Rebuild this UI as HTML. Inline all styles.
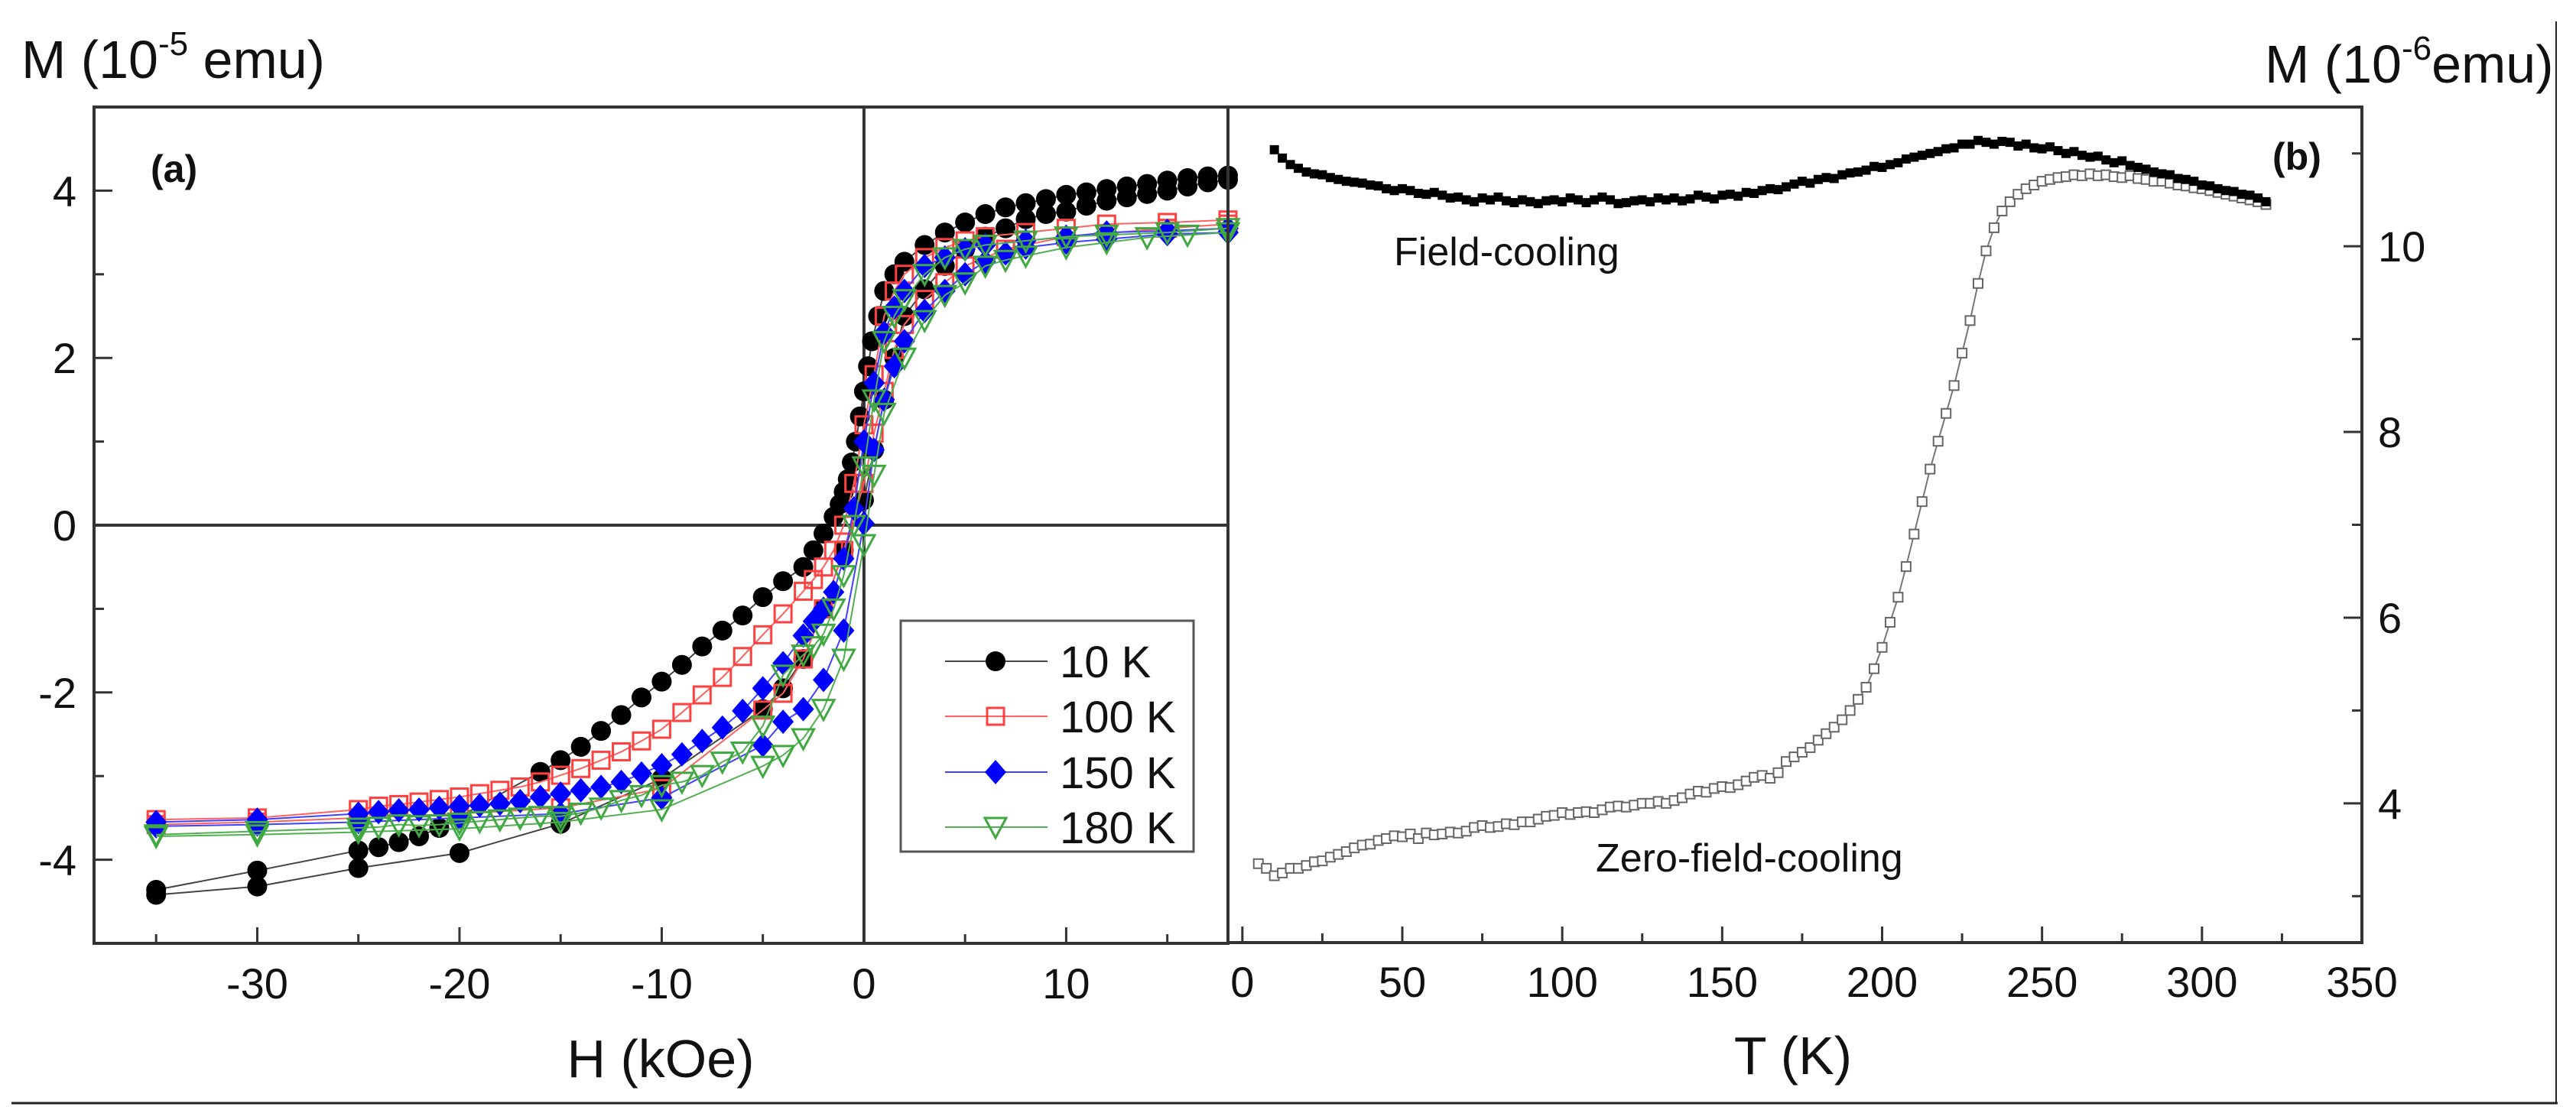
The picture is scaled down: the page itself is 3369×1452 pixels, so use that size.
<!DOCTYPE html>
<html><head><meta charset="utf-8"><style>
html,body{margin:0;padding:0;background:#fff;}
svg{display:block;}
text{font-family:"Liberation Sans",Arial,sans-serif;fill:#111;}
</style></head><body>
<svg id="chart" width="3369" height="1452" viewBox="0 0 3369 1452" xmlns="http://www.w3.org/2000/svg">
<rect x="0" y="0" width="3369" height="1452" fill="#fff"/>
<g id="panelA"></g>
<g id="panelB"></g>
<line x1="15" y1="1443" x2="3345" y2="1443" stroke="#222" stroke-width="3"/>
<line x1="3343" y1="28" x2="3343" y2="1443" stroke="#222" stroke-width="2"/>
</svg>
<script>
// ---------- Panel (a) data ----------
const seriesNames = ["10 K","100 K","150 K","180 K"];
const h10d = [18,17,16,15,14,13,12,11,10,9,8,7,6,5,4,3,2,1.5,1,0.7,0.4,0.2,0,-0.2,-0.4,-0.6,-0.8,-1,-1.2,-1.5,-2,-2.5,-3,-4,-5,-6,-7,-8,-9,-10,-11,-12,-13,-14,-15,-16,-21,-22,-23,-24,-25,-30,-35];
const m10d = [4.18,4.17,4.15,4.12,4.08,4.05,4.02,3.98,3.95,3.9,3.85,3.8,3.72,3.62,3.5,3.35,3.15,3.0,2.8,2.5,2.2,1.9,1.6,1.3,1.0,0.75,0.55,0.4,0.25,0.1,-0.1,-0.3,-0.5,-0.67,-0.86,-1.08,-1.26,-1.45,-1.67,-1.87,-2.06,-2.27,-2.46,-2.65,-2.81,-2.95,-3.62,-3.72,-3.79,-3.85,-3.89,-4.13,-4.36];
const h10a = [-35,-30,-25,-20,-15,-10,-5,-4,-3,-2,-1,0,0.5,1,1.5,2,3,4,5,6,7,8,9,10,11,12,13,14,15,16,17,18];
const m10a = [-4.42,-4.32,-4.1,-3.92,-3.57,-3.03,-2.2,-1.95,-1.6,-1.0,-0.3,0.3,0.9,1.5,2.0,2.5,2.82,3.1,3.3,3.45,3.55,3.66,3.72,3.75,3.82,3.88,3.92,3.96,4.0,4.05,4.1,4.13];
const hDesc = [18,15,12,10,8,6,5,4,3,2,1.5,1,0.5,0,-0.5,-1,-1.5,-2,-2.5,-3,-4,-5,-6,-7,-8,-9,-10,-11,-12,-13,-14,-15,-16,-17,-18,-19,-20,-21,-22,-23,-24,-25,-30,-35];
const m100d = [3.65,3.62,3.6,3.55,3.5,3.45,3.4,3.32,3.2,3.0,2.8,2.5,1.8,1.2,0.5,0.0,-0.3,-0.5,-0.65,-0.79,-1.06,-1.31,-1.57,-1.82,-2.03,-2.24,-2.44,-2.58,-2.71,-2.81,-2.91,-2.99,-3.07,-3.13,-3.17,-3.21,-3.25,-3.28,-3.31,-3.34,-3.36,-3.4,-3.5,-3.52];
const h100a = [-35,-30,-25,-20,-15,-10,-5,-4,-3,-2,-1,0,0.5,1,1.5,2,3,4,5,7,10,15,18];
const m100a = [-3.58,-3.55,-3.5,-3.45,-3.38,-3.15,-2.21,-2.01,-1.6,-1.0,-0.3,0.5,1.1,1.6,2.1,2.4,2.7,2.9,3.1,3.3,3.45,3.55,3.6];
const m150d = [3.55,3.52,3.5,3.45,3.4,3.35,3.3,3.2,3.1,2.8,2.6,2.3,1.7,1.0,0.2,-0.4,-0.8,-1.0,-1.15,-1.32,-1.65,-1.95,-2.22,-2.42,-2.58,-2.74,-2.87,-2.97,-3.07,-3.13,-3.17,-3.21,-3.25,-3.3,-3.33,-3.35,-3.36,-3.38,-3.4,-3.41,-3.43,-3.45,-3.52,-3.55];
const h150a = [-35,-30,-25,-20,-15,-10,-5,-4,-3,-2,-1,0,0.5,1,1.5,2,3,4,5,6,7,8,10,12,15,18];
const m150a = [-3.6,-3.58,-3.55,-3.5,-3.45,-3.26,-2.63,-2.35,-2.2,-1.85,-1.26,0.02,0.9,1.5,1.9,2.2,2.56,2.8,3.0,3.15,3.25,3.32,3.38,3.42,3.48,3.5];
const m180d = [3.55,3.5,3.47,3.45,3.4,3.35,3.3,3.2,3.0,2.7,2.5,2.2,1.5,0.7,0.0,-0.6,-1.0,-1.3,-1.45,-1.55,-1.79,-2.4,-2.71,-2.83,-2.99,-3.07,-3.11,-3.23,-3.29,-3.38,-3.44,-3.48,-3.48,-3.5,-3.52,-3.54,-3.56,-3.58,-3.59,-3.58,-3.61,-3.62,-3.66,-3.7];
const h180a = [-35,-30,-25,-20,-15,-10,-5,-4,-3,-2,-1,0,0.5,1,2,3,4,5,6,7,8,10,12,14,16,18];
const m180a = [-3.72,-3.7,-3.67,-3.63,-3.55,-3.4,-2.88,-2.75,-2.55,-2.2,-1.6,-0.23,0.6,1.34,2.0,2.45,2.75,2.9,3.1,3.17,3.22,3.32,3.38,3.44,3.47,3.5];
const aXTickLabels = ["-30","-20","-10","0","10"];
const aXTicks = [-30,-20,-10,0,10];
const aYTickLabels = ["-4","-2","0","2","4"];
const aYTicks = [-4,-2,0,2,4];

// ---------- Panel (b) data ----------
const fcT = [10,12.5,15,17.5,20,22.5,25,27.5,30,32.5,35,37.5,40,42.5,45,47.5,50,52.5,55,57.5,60,62.5,65,67.5,70,72.5,75,77.5,80,82.5,85,87.5,90,92.5,95,97.5,100,102.5,105,107.5,110,112.5,115,117.5,120,122.5,125,127.5,130,132.5,135,137.5,140,142.5,145,147.5,150,152.5,155,157.5,160,162.5,165,167.5,170,172.5,175,177.5,180,182.5,185,187.5,190,192.5,195,197.5,200,202.5,205,207.5,210,212.5,215,217.5,220,222.5,225,227.5,230,232.5,235,237.5,240,242.5,245,247.5,250,252.5,255,257.5,260,262.5,265,267.5,270,272.5,275,277.5,280,282.5,285,287.5,290,292.5,295,297.5,300,302.5,305,307.5,310,312.5,315,317.5,320];
const fcM = [11.04,10.95,10.88,10.84,10.8,10.78,10.77,10.74,10.72,10.7,10.69,10.68,10.66,10.65,10.62,10.6,10.62,10.6,10.57,10.56,10.58,10.55,10.52,10.53,10.5,10.48,10.52,10.5,10.53,10.49,10.47,10.5,10.48,10.46,10.49,10.5,10.48,10.52,10.5,10.47,10.5,10.53,10.5,10.46,10.47,10.49,10.5,10.48,10.52,10.5,10.52,10.49,10.51,10.55,10.53,10.51,10.55,10.56,10.54,10.58,10.57,10.6,10.62,10.61,10.64,10.67,10.7,10.68,10.72,10.74,10.73,10.77,10.79,10.8,10.82,10.86,10.85,10.88,10.9,10.94,10.96,10.98,11.0,11.02,11.05,11.06,11.1,11.1,11.14,11.12,11.1,11.13,11.12,11.08,11.1,11.06,11.05,11.07,11.03,11.0,11.02,10.98,10.96,10.97,10.93,10.9,10.92,10.87,10.85,10.83,10.8,10.78,10.77,10.73,10.72,10.7,10.66,10.65,10.62,10.6,10.59,10.56,10.55,10.52,10.48];
const zfcT = [5,7.5,10,12.5,15,17.5,20,22.5,25,27.5,30,32.5,35,37.5,40,42.5,45,47.5,50,52.5,55,57.5,60,62.5,65,67.5,70,72.5,75,77.5,80,82.5,85,87.5,90,92.5,95,97.5,100,102.5,105,107.5,110,112.5,115,117.5,120,122.5,125,127.5,130,132.5,135,137.5,140,142.5,145,147.5,150,152.5,155,157.5,160,162.5,165,167.5,170,172.5,175,177.5,180,182.5,185,187.5,190,192.5,195,197.5,200,202.5,205,207.5,210,212.5,215,217.5,220,222.5,225,227.5,230,232.5,235,237.5,240,242.5,245,247.5,250,252.5,255,257.5,260,262.5,265,267.5,270,272.5,275,277.5,280,282.5,285,287.5,290,292.5,295,297.5,300,302.5,305,307.5,310,312.5,315,317.5,320];
const zfcM = [3.35,3.3,3.22,3.25,3.3,3.3,3.33,3.37,3.38,3.42,3.45,3.48,3.52,3.55,3.56,3.6,3.62,3.65,3.64,3.67,3.62,3.68,3.66,3.67,3.69,3.68,3.7,3.74,3.76,3.74,3.75,3.78,3.77,3.8,3.8,3.83,3.86,3.87,3.9,3.88,3.9,3.91,3.9,3.93,3.96,3.97,3.96,3.98,4.0,4.0,4.02,4.0,4.03,4.06,4.1,4.13,4.12,4.16,4.18,4.17,4.2,4.24,4.28,4.3,4.27,4.33,4.45,4.5,4.55,4.6,4.68,4.75,4.82,4.9,5.0,5.12,5.25,5.45,5.68,5.95,6.22,6.55,6.9,7.25,7.6,7.9,8.2,8.5,8.85,9.2,9.6,9.95,10.2,10.38,10.48,10.56,10.62,10.66,10.7,10.72,10.74,10.75,10.77,10.76,10.78,10.76,10.77,10.75,10.74,10.76,10.73,10.72,10.7,10.7,10.68,10.66,10.65,10.63,10.62,10.6,10.58,10.56,10.54,10.52,10.5,10.48,10.45];
const bXTickLabels = ["0","50","100","150","200","250","300","350"];
const bXTicks = [0,50,100,150,200,250,300,350];
const bYTickLabels = ["4","6","8","10"];
const bYTicks = [4,6,8,10];

// ---------- Axis functions ----------
const A = {l:123, r:1606, t:140, b:1234, hMin:-38.07, hMax:18.0, mMin:-5, mMax:5};
function xa(h){ return A.l + (h - A.hMin) * (A.r - A.l) / (A.hMax - A.hMin); }
function ya(m){ return A.b - (m - A.mMin) * (A.b - A.t) / (A.mMax - A.mMin); }
const B = {l:1606, r:3089, t:140, b:1233, tMin:-4.5, tMax:350, mMin:2.5, mMax:11.5};
function xb(t){ return B.l + (t - B.tMin) * (B.r - B.l) / (B.tMax - B.tMin); }
function yb(m){ return B.b - (m - B.mMin) * (B.b - B.t) / (B.mMax - B.mMin); }

const NS = "http://www.w3.org/2000/svg";
function mk(tag, attrs, parent){
  const e = document.createElementNS(NS, tag);
  for (const k in attrs) e.setAttribute(k, attrs[k]);
  parent.appendChild(e);
  return e;
}
const gA = document.getElementById('panelA');
const gB = document.getElementById('panelB');

function marker(kind, x, y, parent, name){
  let e;
  if (kind === 'circle') {
    e = mk('circle', {cx:x, cy:y, r:13, fill:'#000'}, parent);
  } else if (kind === 'square') {
    e = mk('rect', {x:x-11, y:y-11, width:22, height:22, fill:'none', stroke:'#ff4040', 'stroke-width':3}, parent);
  } else if (kind === 'diamond') {
    e = mk('polygon', {points:(x)+','+(y-16)+' '+(x+14)+','+y+' '+x+','+(y+16)+' '+(x-14)+','+y, fill:'#0000ff'}, parent);
  } else {
    e = mk('polygon', {points:(x-14)+','+(y-12)+' '+(x+14)+','+(y-12)+' '+x+','+(y+14), fill:'none', stroke:'#40a840', 'stroke-width':3}, parent);
  }
  
  
  return e;
}

// ---------- Panel (a) ----------
(function(){
  const frame = mk('rect', {x:A.l, y:A.t, width:A.r-A.l, height:A.b-A.t, fill:'none', stroke:'#333', 'stroke-width':4}, gA);
  
  
  const zx = mk('line', {x1:xa(0), y1:A.t, x2:xa(0), y2:A.b, stroke:'#333', 'stroke-width':4}, gA);
  
  
  const zy = mk('line', {x1:A.l, y1:ya(0), x2:A.r, y2:ya(0), stroke:'#333', 'stroke-width':4}, gA);
  
  
  for (let h = -35; h <= 15; h += 5) {
    const major = (h % 10 === 0);
    const t = mk('line', {x1:xa(h), y1:A.b, x2:xa(h), y2:A.b-(major?21:12), stroke:'#333', 'stroke-width':3}, gA);
    
    
  }
  aXTicks.forEach((v,i)=>{
    const t = mk('text', {x:xa(v), y:1306, 'font-size':56, 'text-anchor':'middle'}, gA);
    t.textContent = aXTickLabels[i];
    
    
  });
  for (let m = -5; m <= 5; m += 1) {
    const major = (m % 2 === 0);
    const t = mk('line', {x1:A.l, y1:ya(m), x2:A.l+(major?24:13), y2:ya(m), stroke:'#333', 'stroke-width':3}, gA);
    
    
  }
  aYTicks.forEach((v,i)=>{
    const t = mk('text', {x:100, y:ya(v)+20, 'font-size':56, 'text-anchor':'end'}, gA);
    t.textContent = aYTickLabels[i];
    
    
  });

  const series = [
    {kind:'circle', color:'#444', br:[[h10d,m10d],[h10a,m10a]], name:'series-10k'},
    {kind:'square', color:'#ff6060', br:[[hDesc,m100d],[h100a,m100a]], name:'series-100k'},
    {kind:'diamond', color:'#4040ff', br:[[hDesc,m150d],[h150a,m150a]], name:'series-150k'},
    {kind:'triangle', color:'#50b050', br:[[hDesc,m180d],[h180a,m180a]], name:'series-180k'}
  ];
  series.forEach(s=>{
    const g = mk('g', {}, gA);
    
    
    s.br.forEach(([hs,ms])=>{
      const pts = hs.map((h,i)=>xa(h)+','+ya(ms[i])).join(' ');
      const pl = mk('polyline', {points:pts, fill:'none', stroke:s.color, 'stroke-width':2}, g);
      
      
    });
    s.br.forEach(([hs,ms])=>{
      hs.forEach((h,i)=>{ marker(s.kind, xa(h), ya(ms[i]), g, s.name + '-point'); });
    });
  });

  const lg = mk('g', {}, gA);
  
  
  const box = mk('rect', {x:1178, y:812, width:383, height:302, fill:'#fff', stroke:'#555', 'stroke-width':3}, lg);
  
  
  const ys = [865,937,1010,1082];
  series.forEach((s,i)=>{
    const ln = mk('line', {x1:1236, y1:ys[i], x2:1370, y2:ys[i], stroke:s.color, 'stroke-width':2}, lg);
    
    
    marker(s.kind, 1302, ys[i], lg, 'legend-entry-marker');
    const t = mk('text', {x:1386, y:ys[i]+21, 'font-size':58}, lg);
    t.textContent = seriesNames[i];
    
    
  });
})();

// ---------- Panel (b) ----------
(function(){
  const frame = mk('rect', {x:B.l, y:B.t, width:B.r-B.l, height:B.b-B.t, fill:'none', stroke:'#333', 'stroke-width':4}, gB);
  
  
  for (let t = 0; t <= 350; t += 25) {
    const major = (t % 50 === 0);
    const l = mk('line', {x1:xb(t), y1:B.b, x2:xb(t), y2:B.b-(major?21:12), stroke:'#333', 'stroke-width':3}, gB);
    
    
  }
  bXTicks.forEach((v,i)=>{
    const t = mk('text', {x:xb(v), y:1304, 'font-size':56, 'text-anchor':'middle'}, gB);
    t.textContent = bXTickLabels[i];
    
    
  });
  for (let m = 3; m <= 11; m += 1) {
    const major = (m % 2 === 0);
    const l = mk('line', {x1:B.r, y1:yb(m), x2:B.r-(major?24:13), y2:yb(m), stroke:'#333', 'stroke-width':3}, gB);
    
    
  }
  bYTicks.forEach((v,i)=>{
    const t = mk('text', {x:3110, y:yb(v)+20, 'font-size':56}, gB);
    t.textContent = bYTickLabels[i];
    
    
  });
  const gz = mk('g', {}, gB);
  
  
  const zl = mk('polyline', {points:zfcT.map((t,i)=>xb(t)+','+yb(zfcM[i])).join(' '), fill:'none', stroke:'#777', 'stroke-width':2}, gz);
  
  
  zfcT.forEach((t,i)=>{
    const r = mk('rect', {x:xb(t)-6, y:yb(zfcM[i])-6, width:12, height:12, fill:'#fff', stroke:'#666', 'stroke-width':2}, gz);
    
    
  });
  const gf = mk('g', {}, gB);
  
  
  fcT.forEach((t,i)=>{
    const r = mk('rect', {x:xb(t)-6, y:yb(fcM[i])-6, width:12, height:12, fill:'#000'}, gf);
    
    
  });
})();
</script>
<script>
(function(){
  const svg = document.getElementById('chart');
  const NS = "http://www.w3.org/2000/svg";
  function txt(x,y,size,content,name,extra){
    const t = document.createElementNS(NS,'text');
    t.setAttribute('x',x); t.setAttribute('y',y); t.setAttribute('font-size',size);
    if (extra) for (const k in extra) t.setAttribute(k, extra[k]);
    t.innerHTML = content;
    
    
    svg.appendChild(t);
    return t;
  }
  txt(28,102,70,'M (10<tspan font-size="44" dy="-30">-5</tspan><tspan dy="30"> emu)</tspan>','panel-a-y-axis-title');
  txt(864,1409,70,'H (kOe)','panel-a-x-axis-title',{'text-anchor':'middle'});
  txt(197,238,50,'(a)','panel-a-label',{'font-weight':'bold'});
  txt(2962,108,70,'M (10<tspan font-size="44" dy="-30">-6</tspan><tspan dy="30">emu)</tspan>','panel-b-y-axis-title');
  txt(2345,1405,70,'T (K)','panel-b-x-axis-title',{'text-anchor':'middle'});
  txt(2972,222,50,'(b)','panel-b-label',{'font-weight':'bold'});
  txt(1823,347,52,'Field-cooling','fc-annotation');
  txt(2087,1140,52,'Zero-field-cooling','zfc-annotation');
})();
</script>
</body></html>
